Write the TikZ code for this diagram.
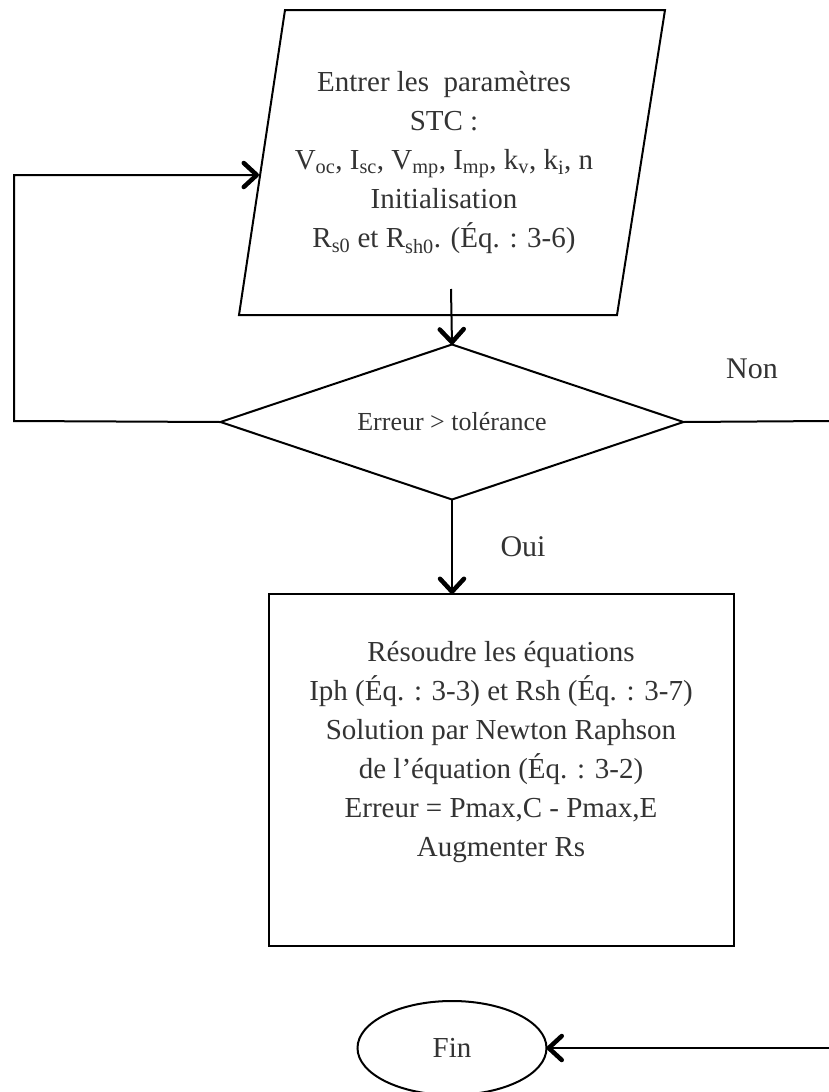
\documentclass[tikz,border=0pt]{standalone}
\usepackage{fontspec}
\setmainfont{Liberation Serif}
\usetikzlibrary{arrows.meta, shapes, positioning, calc}
\definecolor{texte}{HTML}{333333}

\tikzset{
  trait/.style={line width=2pt, draw=black},
  fleche/.style={trait, -{Straight Barb[length=13pt, width=24pt, line width=4.5pt, round]}},
  boite/.style={draw=black, line width=2pt, inner sep=0pt, outer sep=0pt},
  libelle/.style={text=texte, font=\fontsize{29}{39}\selectfont, align=center, inner sep=0pt},
}

\begin{document}
\begin{tikzpicture}[x=1pt, y=-1pt]
  \useasboundingbox (0,0) rectangle (829,1092);

  % entree des parametres
  \coordinate (pA) at (285,10);
  \coordinate (pB) at (665,10);
  \coordinate (pC) at (617,315);
  \coordinate (pD) at (239,315);
  \draw[trait, line join=miter] (pA) -- (pB) -- (pC) -- (pD) -- cycle;
  \node[libelle] (entree) at (444,163) {
    Entrer les\ \ paramètres\\
    STC :\\
    V\textsubscript{oc}, I\textsubscript{sc}, V\textsubscript{mp}, I\textsubscript{mp}, k\textsubscript{v}, k\textsubscript{i}, n\\
    Initialisation\\
    R\textsubscript{s0} et R\textsubscript{sh0}. (Éq. : 3-6)
  };
  \coordinate (entreeSortie) at (451,289);
  \coordinate (entreeGauche) at (259,175);

  % test
  \node[boite, diamond, aspect=3, minimum width=463pt, minimum height=155pt, text=texte,
        font=\fontsize{26}{30}\selectfont] (test) at (452,422) {Erreur > tolérance};

  % calcul
  \node[boite, minimum width=465pt, minimum height=352pt] (calcul) at (501.5,770) {};
  \node[libelle] (calculTexte) at (501,752) {
    Résoudre les équations\\
    Iph (Éq. : 3-3) et Rsh (Éq. : 3-7)\\
    Solution par Newton Raphson\\
    de l’équation (Éq. : 3-2)\\
    Erreur = Pmax,C - Pmax,E\\
    Augmenter Rs
  };

  % fin
  \node[boite, ellipse, minimum width=189pt, minimum height=94pt, text=texte,
        font=\fontsize{29}{39}\selectfont] (fin) at (452,1048) {Fin};

  % liaisons
  \coordinate (retourBas) at (14,421);
  \coordinate (retourHaut) at (14,175);
  \coordinate (nonBord) at (829,421);
  \coordinate (finBord) at (829,1048);

  \draw[fleche] (entreeSortie) -- (test.north);
  \draw[fleche] (test.west) -- (retourBas) -- (retourHaut) -- (entreeGauche);
  \draw[trait] (test.east) -- (nonBord);
  \node[libelle, font=\fontsize{30}{36}\selectfont] (non) at (752,369) {Non};
  \draw[fleche] (test.south) -- (test.south |- calcul.north);
  \node[libelle, font=\fontsize{30}{36}\selectfont] (oui) at (523,547) {Oui};
  \draw[fleche] (finBord) -- (fin.east);
\end{tikzpicture}
\end{document}
